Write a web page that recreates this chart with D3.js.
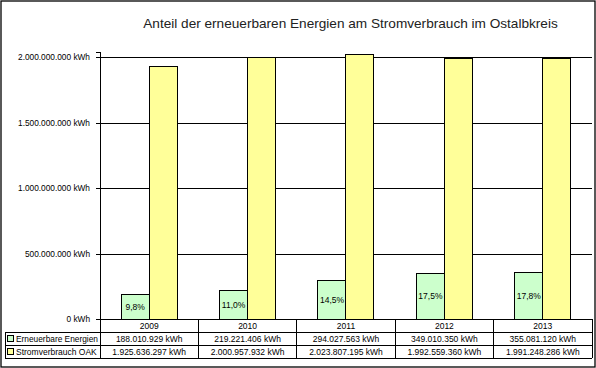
<!DOCTYPE html>
<html><head><meta charset="utf-8">
<script src="https://cdn.jsdelivr.net/npm/d3@7"></script>
<style>
body{margin:0;background:#fff}
svg{display:block}
text{font-family:"Liberation Sans",Arial,sans-serif;fill:#000}
</style>
</head><body>
<svg id="c" width="596" height="368"></svg>
<script>
const title = "Anteil der erneuerbaren Energien am Stromverbrauch im Ostalbkreis";
const years = ["2009", "2010", "2011", "2012", "2013"];
const seriesNames = ["Erneuerbare Energien", "Stromverbrauch OAK"];
const renewable = [188010929, 219221406, 294027563, 349010350, 355081120];
const consumption = [1925636297, 2000957932, 2023807195, 1992559360, 1991248286];
const shareLabels = ["9,8%", "11,0%", "14,5%", "17,5%", "17,8%"];
const yTicks = [0, 500000000, 1000000000, 1500000000, 2000000000];
const yMax = 2040000000;
const colors = ["#CCFFCC", "#FFFF99"];

const de = d3.formatLocale({decimal: ",", thousands: ".", grouping: [3], currency: ["", " €"]});
const fmt = de.format(",");
const kwh = v => fmt(v) + " kWh";

const svg = d3.select("#c");
const W = 596, H = 368;
const L = 100, R = 592, T = 52, B = 319;
const rowY = [319, 332, 345, 358];
const legendLeft = 5;

svg.append("rect").attr("x", 0).attr("y", 0).attr("width", W).attr("height", H).attr("fill", "#fff");

// title
const tt = svg.append("text").attr("x", 350.5).attr("y", 28).attr("text-anchor", "middle")
  .attr("font-size", 13).style("fill", "#222").text(title);
const tw = tt.node().getComputedTextLength();
tt.attr("font-size", 13 * 415 / tw);

const x = d3.scaleBand().domain(years).range([L, R]).padding(0);
const bw = x.bandwidth();
const x1 = d3.scaleBand().domain(seriesNames).range([bw / 2 - 28, bw / 2 + 28]).padding(0);
const y = d3.scaleLinear().domain([0, yMax]).range([B, T]);

// gridlines
const grid = svg.append("g").attr("transform", `translate(${L},0)`)
  .call(d3.axisLeft(y).tickValues(yTicks).tickSize(-(R - L)).tickFormat(""));
grid.select(".domain").remove();
grid.selectAll("line").attr("stroke", "#000").attr("shape-rendering", "crispEdges");

// bars
const groups = svg.append("g").selectAll("g").data(years).join("g")
  .attr("transform", d => `translate(${x(d)},0)`);
groups.append("rect")
  .attr("x", (d, i) => x1(seriesNames[0]))
  .attr("y", (d, i) => y(renewable[i]))
  .attr("width", x1.bandwidth())
  .attr("height", (d, i) => y(0) - y(renewable[i]))
  .attr("fill", colors[0]).attr("stroke", "#000").attr("shape-rendering", "crispEdges");
groups.append("rect")
  .attr("x", (d, i) => x1(seriesNames[1]))
  .attr("y", (d, i) => y(consumption[i]))
  .attr("width", x1.bandwidth())
  .attr("height", (d, i) => y(0) - y(consumption[i]))
  .attr("fill", colors[1]).attr("stroke", "#000").attr("shape-rendering", "crispEdges");
groups.append("text")
  .attr("x", x1(seriesNames[0]) + x1.bandwidth() / 2)
  .attr("y", (d, i) => (y(renewable[i]) + y(0)) / 2 + 3)
  .attr("text-anchor", "middle").attr("font-size", 8.5)
  .text((d, i) => shareLabels[i]);

// y axis
const ya = svg.append("g").attr("transform", `translate(${L},0)`)
  .call(d3.axisLeft(y).tickValues(yTicks).tickSize(4).tickPadding(6).tickFormat(kwh));
ya.select(".domain").attr("stroke", "#000").attr("shape-rendering", "crispEdges");
ya.selectAll("line").attr("stroke", "#000").attr("shape-rendering", "crispEdges");
ya.selectAll("text").attr("font-size", 8.3).attr("font-family", "Liberation Sans, Arial, sans-serif").style("fill", "#000");

// data table
const tbl = svg.append("g").attr("stroke", "#000").attr("shape-rendering", "crispEdges");
tbl.append("line").attr("x1", L).attr("x2", R).attr("y1", rowY[0]).attr("y2", rowY[0]);
[1, 2, 3].forEach(k => {
  tbl.append("line").attr("x1", legendLeft).attr("x2", R).attr("y1", rowY[k]).attr("y2", rowY[k]);
});
tbl.append("line").attr("x1", legendLeft).attr("x2", legendLeft).attr("y1", rowY[1]).attr("y2", rowY[3]);
years.forEach(yr => {
  tbl.append("line").attr("x1", x(yr)).attr("x2", x(yr)).attr("y1", rowY[0]).attr("y2", rowY[3]);
});
tbl.append("line").attr("x1", R).attr("x2", R).attr("y1", rowY[0]).attr("y2", rowY[3]);

const rowMid = k => (rowY[k] + rowY[k + 1]) / 2 + 3;
svg.append("g").selectAll("text").data(years).join("text")
  .attr("x", d => x(d) + bw / 2).attr("y", rowMid(0))
  .attr("text-anchor", "middle").attr("font-size", 8.5).text(d => d);
[renewable, consumption].forEach((arr, s) => {
  svg.append("g").selectAll("text").data(arr).join("text")
    .attr("x", (d, i) => x(years[i]) + bw / 2).attr("y", rowMid(s + 1))
    .attr("text-anchor", "middle").attr("font-size", 8.5).text(d => kwh(d));
  const cy = (rowY[s + 1] + rowY[s + 2]) / 2;
  svg.append("rect").attr("x", 7.5).attr("y", cy - 3).attr("width", 6).attr("height", 6)
    .attr("fill", colors[s]).attr("stroke", "#000").attr("stroke-width", 1);
  const lt = svg.append("text").attr("x", 16).attr("y", cy + 3).attr("font-size", 8.5).text(seriesNames[s]);
  const lw = lt.node().getComputedTextLength();
  if (lw > 82) lt.attr("font-size", 8.5 * 82 / lw);
});

// outer border
svg.append("rect").attr("x", 1).attr("y", 1).attr("width", 594).attr("height", 366)
  .attr("fill", "none").attr("stroke", "#000").attr("stroke-width", 1.3);
</script>
</body></html>
